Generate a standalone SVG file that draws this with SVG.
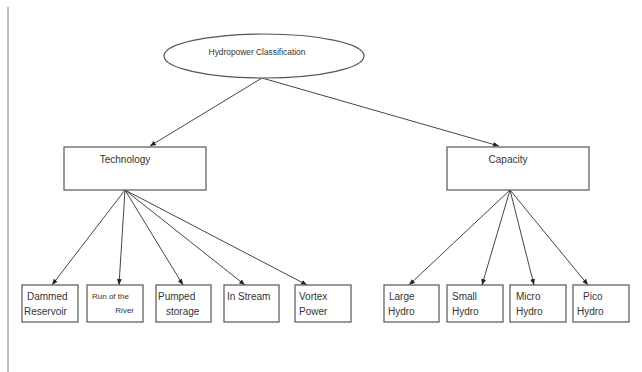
<svg xmlns="http://www.w3.org/2000/svg" width="642" height="372" viewBox="0 0 642 372">
<style>
.box{fill:#fff;stroke:#555;stroke-width:1.2}
.t{font-family:"Liberation Sans",Arial,sans-serif;font-size:10px;fill:#333}
.e{stroke:#444;stroke-width:1;fill:none;marker-end:url(#ah)}
</style>
<defs>
<marker id="ah" viewBox="0 0 10 10" refX="10" refY="5" markerWidth="6" markerHeight="6" markerUnits="userSpaceOnUse" orient="auto">
<path d="M0,1 L10,5 L0,9 Z" fill="#222"/>
</marker>
</defs>
<rect width="642" height="372" fill="#fff"/>
<line x1="8" y1="7" x2="8" y2="372" stroke="#777" stroke-width="1"/>
<g id="connectors">
<path class="e" d="M262,78 L150,146"/>
<path class="e" d="M262,78 L499,146"/>
<path class="e" d="M125,190 L52,285"/>
<path class="e" d="M125,190 L119,285"/>
<path class="e" d="M125,190 L183,285"/>
<path class="e" d="M125,190 L245,285"/>
<path class="e" d="M125,190 L307,285"/>
<path class="e" d="M510,190 L409,285"/>
<path class="e" d="M510,190 L482,285"/>
<path class="e" d="M510,190 L534,285"/>
<path class="e" d="M510,190 L588,285"/>
</g>
<g id="root">
<ellipse cx="264" cy="56" rx="100" ry="22" class="box"/>
<text class="t" x="257" y="55" text-anchor="middle" style="font-size:8.4px">Hydropower Classification</text>
</g>
<g id="technology">
<rect x="64" y="147" width="142" height="43" class="box"/>
<text class="t" x="125" y="163" text-anchor="middle">Technology</text>
</g>
<g id="capacity">
<rect x="447" y="147" width="142" height="43" class="box"/>
<text class="t" x="508" y="163" text-anchor="middle">Capacity</text>
</g>
<g id="dammed">
<rect x="22" y="285" width="56" height="37" class="box"/>
<text class="t" x="27" y="300">Dammed</text>
<text class="t" x="24" y="315">Reservoir</text>
</g>
<g id="run">
<rect x="87" y="285" width="56" height="37" class="box"/>
<text class="t" x="92" y="299" style="font-size:8px">Run of the</text>
<text class="t" x="134" y="313" text-anchor="end" style="font-size:8px">River</text>
</g>
<g id="pumped">
<rect x="156" y="285" width="55" height="37" class="box"/>
<text class="t" x="158" y="300">Pumped</text>
<text class="t" x="166" y="315">storage</text>
</g>
<g id="instream">
<rect x="224" y="285" width="55" height="37" class="box"/>
<text class="t" x="227" y="300">In Stream</text>
</g>
<g id="vortex">
<rect x="295" y="285" width="56" height="37" class="box"/>
<text class="t" x="299" y="300">Vortex</text>
<text class="t" x="299" y="315">Power</text>
</g>
<g id="large">
<rect x="384" y="285" width="55" height="37" class="box"/>
<text class="t" x="389" y="300">Large</text>
<text class="t" x="388" y="315">Hydro</text>
</g>
<g id="small">
<rect x="447" y="285" width="56" height="37" class="box"/>
<text class="t" x="452" y="300">Small</text>
<text class="t" x="452" y="315">Hydro</text>
</g>
<g id="micro">
<rect x="510" y="285" width="56" height="37" class="box"/>
<text class="t" x="516" y="300">Micro</text>
<text class="t" x="516" y="315">Hydro</text>
</g>
<g id="pico">
<rect x="573" y="285" width="56" height="37" class="box"/>
<text class="t" x="583" y="300">Pico</text>
<text class="t" x="577" y="315">Hydro</text>
</g>
</svg>
